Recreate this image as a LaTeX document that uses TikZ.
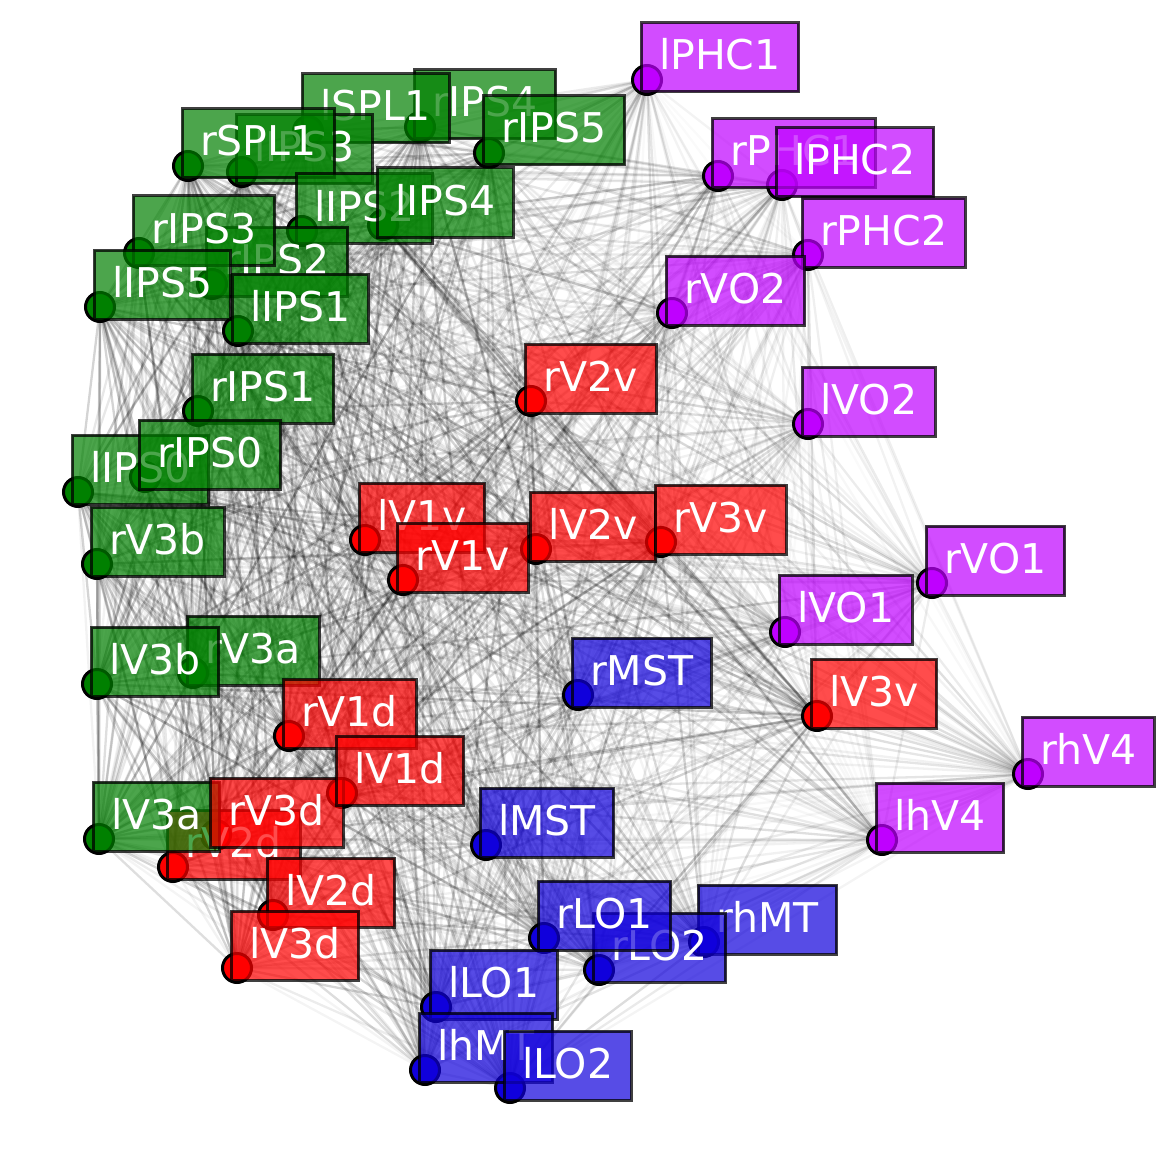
\documentclass[tikz,border=0pt]{standalone}
\usepackage{fontspec}
\setmainfont{DejaVu Sans}
\definecolor{cg}{RGB}{0,128,0}
\definecolor{cr}{RGB}{255,0,0}
\definecolor{cp}{RGB}{191,0,255}
\definecolor{cb}{RGB}{16,0,220}
\tikzset{
  dotnode/.style={circle, draw=black, line width=3pt, minimum size=29pt, inner sep=0pt, fill=#1},
  labbox/.style={anchor=south west, fill=#1, fill opacity=0.7, draw=black, draw opacity=0.75,
    line width=3pt, text=white, text opacity=1, inner xsep=18pt, inner ysep=14pt,
    text height=33pt, text depth=8pt, font=\fontsize{41}{48}\selectfont},
  edgeline/.style={line width=2.3pt, draw=black, line cap=round}
}
\def\nodelist{%
rIPS4/420/127/cg/1, lSPL1/308/131/cg/1, lIPS3/242/172/cg/1, rSPL1/188/166/cg/1,
rIPS5/489/153/cg/1, lIPS2/302/231/cg/1, lIPS4/383/225/cg/1, rIPS2/212/284/cg/1,
rIPS3/139/253/cg/1, lIPS5/100/307/cg/1, lIPS1/238/331/cg/1, rIPS1/198/411/cg/1,
lIPS0/78/492/cg/1, rIPS0/145/477/cg/1, rV3b/97/564/cg/1, rV3a/193/673/cg/1,
lV3b/97/684/cg/1, rV2d/173/867/cr/1, lV3a/99/839/cg/1, rV3d/216/835/cr/1,
rV1d/289/736/cr/1, lV1d/342/793/cr/1, lV2d/273/915/cr/1, lV3d/237/968/cr/1,
lV1v/365/540/cr/1, rV1v/403/580/cr/1, lV2v/536/549/cr/1, rV3v/661/542/cr/1,
rV2v/531/401/cr/1, lV3v/817/716/cr/1,
rPHC1/718/176/cp/0.6, lPHC2/782/185/cp/0.6, lPHC1/647/80/cp/0.6, rPHC2/808/255/cp/0.6,
rVO2/672/313/cp/0.6, lVO2/808/424/cp/0.6, rVO1/932/583/cp/0.6, lVO1/785/632/cp/0.6,
rhV4/1028/774/cp/0.6, lhV4/882/840/cp/0.6,
rMST/578/695/cb/0.8, lMST/486/845/cb/0.8, rhMT/704/942/cb/0.8, rLO2/599/970/cb/0.8,
rLO1/544/938/cb/0.8, lLO1/436/1007/cb/0.8, lhMT/425/1070/cb/0.8, lLO2/510/1088/cb/0.8}
\begin{document}
\begin{tikzpicture}[x=1pt,y=-1pt]
\useasboundingbox[fill=white] (0,0) rectangle (1165,1169);
% positions
\foreach \n/\x/\y/\c/\w in \nodelist { \coordinate (\n) at (\x,\y); }
% edges
\foreach \a/\xa/\ya/\ca/\wa [count=\i] in \nodelist {
  \foreach \b/\xb/\yb/\cb/\wb [count=\j] in \nodelist {
    \ifnum\j>\i
      \pgfmathsetmacro\op{0.13*\wa*\wb*(0.4+0.3*mod(\i*7+\j*11,5))}
      \draw[edgeline, draw opacity=\op] (\a) -- (\b);
    \fi
  }
}
% dots
\foreach \n/\x/\y/\c/\w in \nodelist { \node[dotnode=\c] (\n-dot) at (\n) {}; }
% labels
\foreach \n/\x/\y/\c/\w in \nodelist {
  \node[labbox=\c] (\n-lab) at ([shift={(-7.5,13.5)}]\n) {\n};
}
\end{tikzpicture}
\end{document}
